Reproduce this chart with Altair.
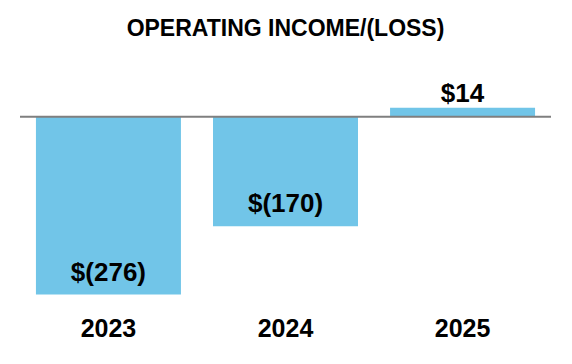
import altair as alt
import pandas as pd

years = ["2023", "2024", "2025"]
values = [-276, -170, 14]
labels = ["$(276)", "$(170)", "$14"]

df = pd.DataFrame({"year": years, "value": values, "label": labels})

FONT = "Liberation Sans"
BAR = "#71C5E8"

x_enc = alt.X(
    "year:N",
    sort=years,
    scale=alt.Scale(paddingInner=0.181, paddingOuter=0.09),
    axis=alt.Axis(
        title=None, domain=False, ticks=False, labelAngle=0,
        labelFont=FONT, labelFontSize=25, labelFontWeight="bold",
        labelColor="#000000", labelPadding=6,
    ),
)
y_scale = alt.Scale(domain=[-300, 88], nice=False, zero=False)
y_enc = alt.Y("value:Q", scale=y_scale, axis=None)

base = alt.Chart(df)

bars = base.mark_bar(color=BAR, size=145).encode(x=x_enc, y=y_enc, y2=alt.datum(0))

neg_text = base.transform_filter("datum.value < 0").mark_text(
    font=FONT, fontSize=26, fontWeight="bold", color="#000000",
    baseline="alphabetic", dy=-14,
).encode(x=x_enc, y=y_enc, text="label:N")

pos_text = base.transform_filter("datum.value >= 0").mark_text(
    font=FONT, fontSize=26, fontWeight="bold", color="#000000",
    baseline="alphabetic", dy=-6,
).encode(x=x_enc, y=y_enc, text="label:N")

rule = alt.Chart(pd.DataFrame({"zero": [0]})).mark_rule(
    color="#7f7f7f", strokeWidth=2
).encode(y=alt.Y("zero:Q", scale=y_scale, axis=None))

chart = alt.layer(bars, rule, neg_text, pos_text).properties(
    width=531,
    height=250,
    title=alt.TitleParams(
        "OPERATING INCOME/(LOSS)",
        font=FONT, fontSize=23, fontWeight="bold", color="#000000",
        anchor="middle", baseline="alphabetic", offset=1,
    ),
    autosize=alt.AutoSizeParams(type="none"),
    padding={"left": 12, "top": 52, "right": 13, "bottom": 40},
).configure_view(stroke=None)

chart.save("out.html", embed_options={"renderer": "svg", "actions": False})
